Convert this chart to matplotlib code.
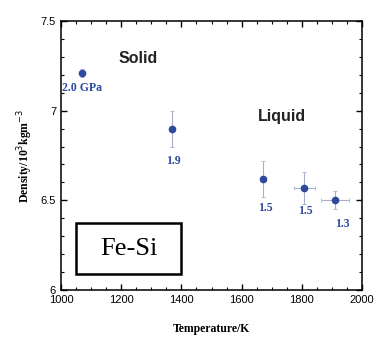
import matplotlib.pyplot as plt
from matplotlib.ticker import MultipleLocator
from matplotlib.patches import Rectangle

# Fe-Si density vs temperature
temp = [1070, 1370, 1670, 1808, 1910]
density = [7.21, 6.90, 6.62, 6.57, 6.50]
dens_err = [0.02, 0.10, 0.10, 0.09, 0.05]
temp_err = [0, 0, 0, 35, 48]
pressure_labels = ["2.0 GPa", "1.9", "1.5", "1.5", "1.3"]
label_offsets = [(0, -11), (1, -23), (2, -21), (1, -17), (5, -17)]

blue = "#2f4a9c"
serif = ["Liberation Serif", "DejaVu Serif"]
sans = ["Liberation Sans", "DejaVu Sans"]

fig = plt.figure(figsize=(3.76, 3.38), dpi=100)
ax = fig.add_axes([0.162, 0.142, 0.801, 0.796])

ax.errorbar(temp, density, yerr=dens_err, xerr=temp_err, fmt="o", ms=4.5,
            color=blue, ecolor="#a8b0cc", elinewidth=0.8, capsize=1.5, capthick=0.6)

for t, d, lab, off in zip(temp, density, pressure_labels, label_offsets):
    ax.annotate(lab, (t, d), xytext=off, textcoords="offset points",
                ha="center", va="center", color=blue, fontsize=8.5,
                fontweight="bold", family=serif)

ax.text(1256, 7.29, "Solid", fontsize=11.5, fontweight="bold", family=sans,
        ha="center", va="center", color="#222222")
ax.text(1734, 6.965, "Liquid", fontsize=11.5, fontweight="bold", family=sans,
        ha="center", va="center", color="#222222")
ax.add_patch(Rectangle((1050, 6.09), 350, 0.285, fill=False, ec="black", lw=1.8))
ax.text(1225, 6.23, "Fe-Si", fontsize=19, family=serif, ha="center", va="center")

ax.set_xlim(1000, 2000)
ax.set_ylim(6, 7.5)
ax.xaxis.set_major_locator(MultipleLocator(200))
ax.xaxis.set_minor_locator(MultipleLocator(50))
ax.yaxis.set_major_locator(MultipleLocator(0.5))
ax.yaxis.set_minor_locator(MultipleLocator(0.1))
ax.yaxis.set_major_formatter(plt.FuncFormatter(lambda v, p: f"{v:g}"))
ax.tick_params(which="both", direction="in", top=True, right=True, labelsize=8)
ax.tick_params(which="major", length=4, width=1)
ax.tick_params(which="minor", length=2, width=0.8)
for lab in ax.get_xticklabels() + ax.get_yticklabels():
    lab.set_family(sans)
for s in ax.spines.values():
    s.set_linewidth(1.1)

ax.set_xlabel("Temperature/K", fontsize=8.5, fontweight="bold", family=serif, labelpad=13)
ax.set_ylabel("Density/10$^3$kgm$^{-3}$", fontsize=8.5, fontweight="bold", family=serif,
              labelpad=4)

fig.savefig("out.png", dpi=100)
